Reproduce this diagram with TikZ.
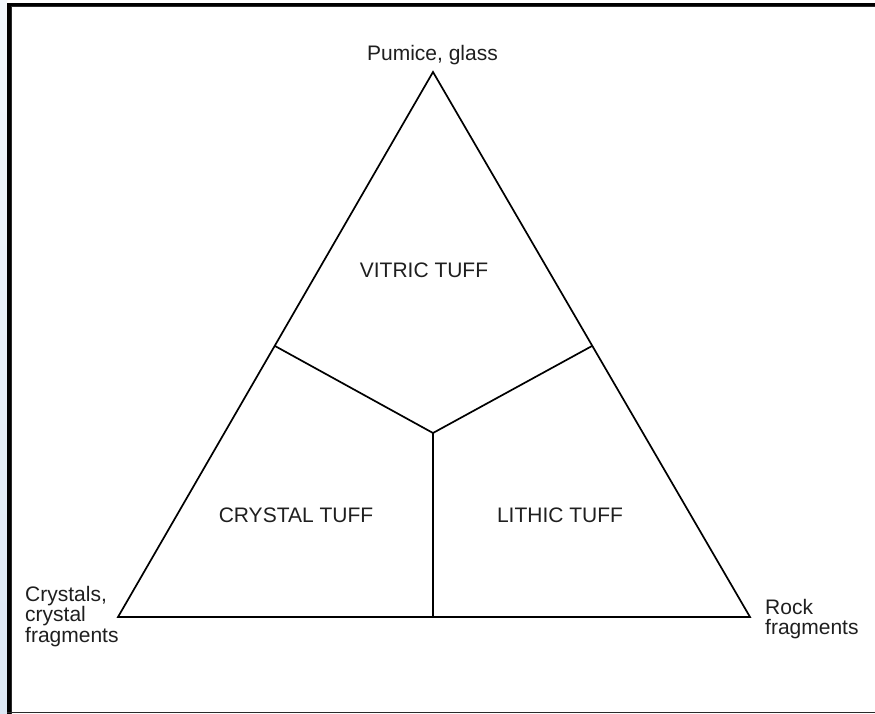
\documentclass[tikz,border=0pt]{standalone}
\usepackage{fontspec}
\setmainfont{Liberation Sans}
\definecolor{stripTop}{HTML}{F2F7FC}
\definecolor{stripBot}{HTML}{DCE7F4}
\definecolor{frameGray}{HTML}{2A2A2A}
\tikzset{
  edge/.style={line width=1.7pt, line cap=round, line join=miter, black},
  lbl/.style={inner sep=0pt, anchor=base, font=\fontsize{21}{20}\selectfont, text=black!88},
  corner/.style={inner sep=0pt, font=\fontsize{21}{20.5}\selectfont, text=black!88, align=left},
}
\begin{document}
\begin{tikzpicture}[x=1pt,y=-1pt]
\useasboundingbox (0,0) rectangle (875,714);
\fill[white] (0,0) rectangle (875,714);
% left light-blue strip
\shade[top color=stripTop, bottom color=stripBot] (0,0) rectangle (7,714);
% frame lines
\fill[black] (7,3) rectangle (875,6.5);
\fill[black] (7,3) rectangle (10.5,714);
\fill[frameGray] (10.5,6.5) rectangle (11.2,714);
\fill[frameGray] (10.5,6.5) rectangle (875,7.2);
\fill[frameGray] (7,711.5) rectangle (875,713);

% vertices
\coordinate (A) at (433,72);
\coordinate (L) at (118,617);
\coordinate (R) at (750,617);
\coordinate (P) at (275,346);
\coordinate (Q) at (592,346);
\coordinate (M) at (433,433);
\coordinate (B) at (433,617);

\draw[edge] (A) -- (L) -- (R) -- cycle;
\draw[edge] (P) -- (M) -- (Q);
\draw[edge] (M) -- (B);

\node[lbl] (pum) at (432.5,61) {Pumice, glass};
\node[lbl] (vit) at (424,277) {VITRIC TUFF};
\node[lbl] (cry) at (296,522) {CRYSTAL TUFF};
\node[lbl] (lit) at (560,522) {LITHIC TUFF};
\node[corner, anchor=north west] (cl) at (25,586) {Crystals,\\crystal\\fragments};
\node[corner, anchor=north west] (rk) at (765,599) {Rock\\fragments};
\end{tikzpicture}
\end{document}
